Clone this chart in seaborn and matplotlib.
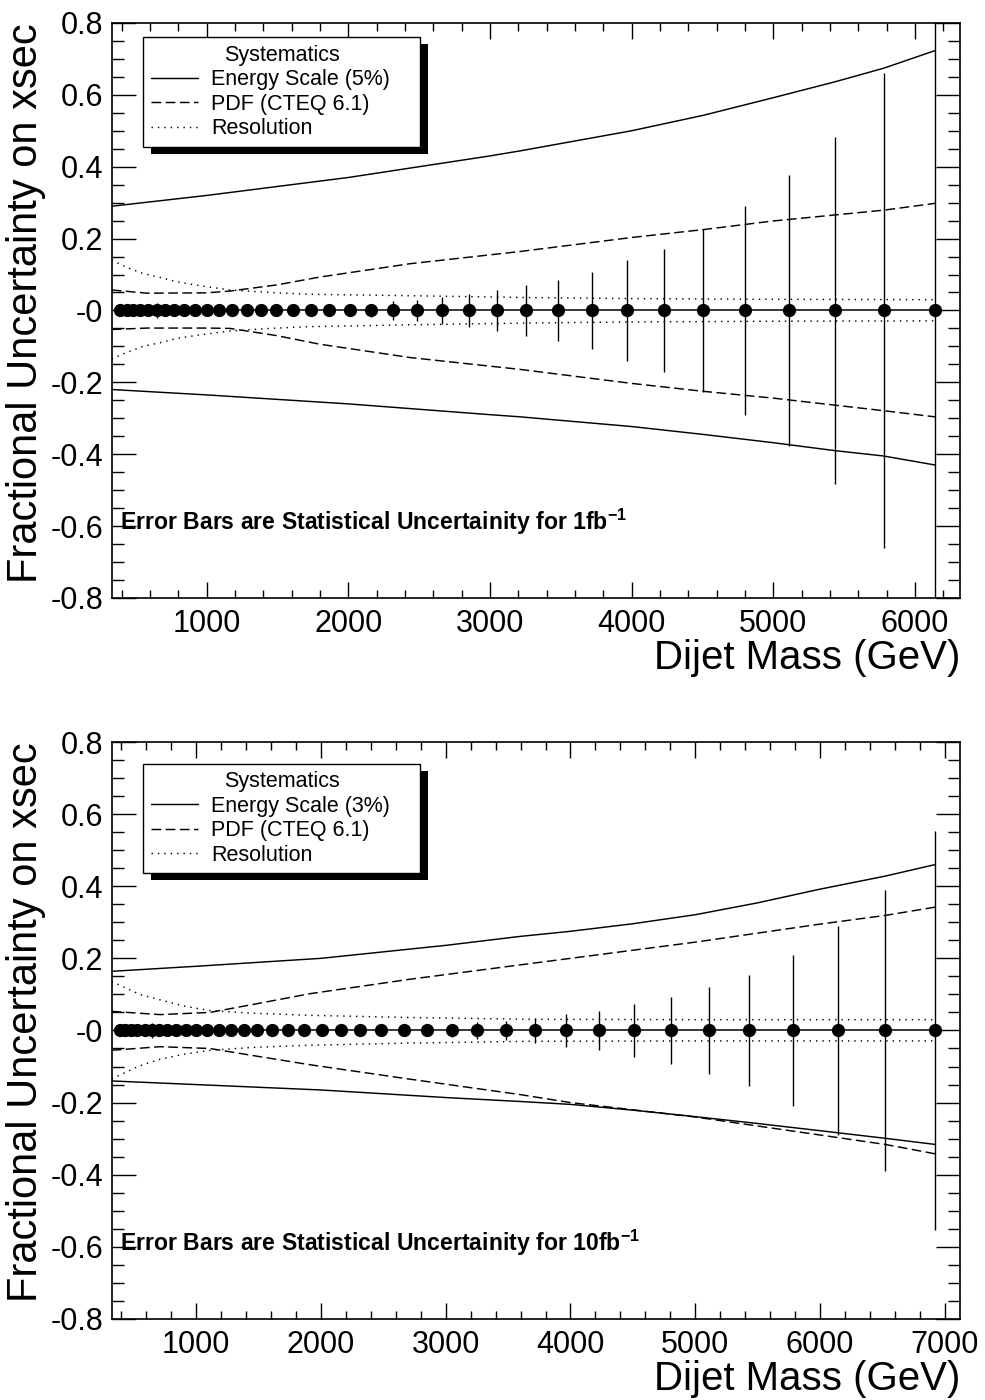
import matplotlib
matplotlib.use("Agg")
import numpy as np
import pandas as pd
import matplotlib.pyplot as plt
import seaborn as sns
from matplotlib.ticker import MultipleLocator, FixedLocator, FixedFormatter
from matplotlib.lines import Line2D
from matplotlib.patches import Rectangle
from matplotlib.transforms import IdentityTransform

# ---------------- data ----------------
mass_1fb = [388, 435, 482, 529, 588, 647, 706, 771, 840, 917, 1000, 1087, 1181,
            1282, 1381, 1487, 1607, 1736, 1865, 2011, 2159, 2317, 2482, 2663,
            2851, 3051, 3253, 3482, 3718, 3967, 4228, 4506, 4802, 5108, 5433,
            5779, 6141]
stat_1fb = [0.001, 0.001, 0.001, 0.002, 0.002, 0.02, 0.002, 0.003, 0.003, 0.004,
            0.004, 0.005, 0.006, 0.007, 0.008, 0.009, 0.010, 0.011, 0.012, 0.014,
            0.018, 0.027, 0.029, 0.038, 0.046, 0.057, 0.072, 0.086, 0.106, 0.14,
            0.172, 0.228, 0.292, 0.377, 0.483, 0.66, 0.92]

mass_10fb = [388, 435, 482, 529, 588, 647, 706, 771, 840, 917, 1000, 1087, 1181,
             1282, 1381, 1487, 1607, 1736, 1865, 2011, 2159, 2317, 2482, 2663,
             2851, 3051, 3253, 3482, 3718, 3967, 4228, 4506, 4802, 5108, 5433,
             5779, 6141, 6520, 6920]
stat_10fb = [0.0005, 0.0005, 0.0005, 0.0006, 0.0007, 0.02, 0.0008, 0.001, 0.001,
             0.0012, 0.0013, 0.0016, 0.0019, 0.0022, 0.0025, 0.0028, 0.0032,
             0.0035, 0.0038, 0.0044, 0.0057, 0.0085, 0.0092, 0.012, 0.015, 0.018,
             0.023, 0.027, 0.034, 0.045, 0.055, 0.073, 0.093, 0.12, 0.155, 0.209,
             0.291, 0.39, 0.552]

# Energy scale 5 % (1 fb-1 panel)
es5_x = [330, 1000, 2000, 3000, 3212, 4000, 4506, 5000, 5433, 5779, 6141]
es5_up = [0.29, 0.32, 0.37, 0.43, 0.444, 0.50, 0.543, 0.592, 0.636, 0.674, 0.723]
es5_dn = [-0.22, -0.235, -0.26, -0.29, -0.296, -0.323, -0.345, -0.368, -0.39, -0.405, -0.43]
# PDF (1 fb-1 panel)
pdf1_x = [330, 580, 1000, 1165, 1494, 1800, 2435, 3212, 4000, 4506, 5000, 5779, 6141]
pdf1_up = [0.057, 0.048, 0.049, 0.054, 0.071, 0.093, 0.13, 0.164, 0.203, 0.225, 0.249, 0.279, 0.298]
pdf1_dn = [-0.053, -0.049, -0.049, -0.05, -0.07, -0.094, -0.131, -0.164, -0.203, -0.225, -0.244, -0.279, -0.296]
# Resolution (1 fb-1 panel)
res1_x = [330, 436, 550, 670, 788, 952, 1165, 1450, 1729, 2435, 3258, 4000, 5000, 6141]
res1_up = [0.14, 0.12, 0.103, 0.092, 0.08, 0.069, 0.057, 0.05, 0.045, 0.041, 0.036, 0.033, 0.031, 0.03]
res1_dn = [-0.135, -0.117, -0.1, -0.09, -0.078, -0.068, -0.057, -0.05, -0.045, -0.04, -0.035, -0.032, -0.03, -0.029]

# Energy scale 3 % (10 fb-1 panel)
es3_x = [325, 1000, 2000, 3000, 3600, 4000, 4500, 5000, 5500, 6000, 6520, 6920]
es3_up = [0.164, 0.178, 0.2, 0.236, 0.261, 0.275, 0.296, 0.321, 0.354, 0.392, 0.428, 0.46]
es3_dn = [-0.14, -0.15, -0.165, -0.186, -0.197, -0.205, -0.221, -0.239, -0.258, -0.278, -0.299, -0.316]
# PDF (10 fb-1 panel)
pdf10_x = [325, 712, 1112, 1500, 1913, 2713, 3600, 4000, 5000, 6000, 6520, 6920]
pdf10_up = [0.053, 0.044, 0.05, 0.075, 0.102, 0.142, 0.182, 0.2, 0.245, 0.295, 0.319, 0.342]
pdf10_dn = [-0.055, -0.045, -0.05, -0.072, -0.095, -0.135, -0.178, -0.2, -0.24, -0.29, -0.316, -0.342]
# Resolution (10 fb-1 panel)
res10_x = [325, 436, 550, 712, 900, 1112, 1450, 1913, 2700, 3674, 5000, 6920]
res10_up = [0.136, 0.118, 0.1, 0.085, 0.068, 0.055, 0.048, 0.042, 0.036, 0.031, 0.03, 0.03]
res10_dn = [-0.134, -0.116, -0.098, -0.08, -0.066, -0.055, -0.047, -0.041, -0.035, -0.03, -0.029, -0.029]

y_ticks = [-0.8, -0.6, -0.4, -0.2, 0.0, 0.2, 0.4, 0.6, 0.8]
y_tick_labels = ["-0.8", "-0.6", "-0.4", "-0.2", "-0", "0.2", "0.4", "0.6", "0.8"]
legend_title = "Systematics"
labels_1fb = ["Energy Scale (5%)", "PDF (CTEQ 6.1)", "Resolution"]
labels_10fb = ["Energy Scale (3%)", "PDF (CTEQ 6.1)", "Resolution"]
note_1fb = r"Error Bars are Statistical Uncertainity for 1fb$^{\mathbf{-1}}$"
note_10fb = r"Error Bars are Statistical Uncertainity for 10fb$^{\mathbf{-1}}$"
x_title = "Dijet Mass (GeV)"
y_title = "Fractional Uncertainty on xsec"

# ---------------- style ----------------
sns.set_style("ticks")
plt.rcParams["font.family"] = ["Liberation Sans", "DejaVu Sans"]
plt.rcParams["mathtext.fontset"] = "custom"
plt.rcParams["mathtext.rm"] = "Liberation Sans"
plt.rcParams["mathtext.bf"] = "Liberation Sans:bold"
plt.rcParams["lines.scale_dashes"] = False
for key in ("text.color", "axes.labelcolor", "xtick.color", "ytick.color",
            "axes.edgecolor", "xtick.labelcolor", "ytick.labelcolor"):
    plt.rcParams[key] = "black"

SOLID = "-"
DASH = (0, (7.0, 3.2))
DOT = (0, (1.0, 3.6))
LW = 1.05

fig = plt.figure(figsize=(9.85, 14), dpi=100)
ax1 = fig.add_axes([0.1134, 0.5729, 0.8612, 0.4107])
ax2 = fig.add_axes([0.1134, 0.0579, 0.8612, 0.4121])


def draw_panel(ax, mass, stat, curves, xlim, labels, note, leg_top):
    for (cx, up, dn), ls in zip(curves, [SOLID, DASH, DOT]):
        for cy in (up, dn):
            df = pd.DataFrame({"m": cx, "u": cy})
            sns.lineplot(data=df, x="m", y="u", ax=ax, color="k", lw=LW,
                         linestyle=ls, estimator=None, sort=False, legend=False)
    centre = np.zeros(len(mass))
    sns.lineplot(x=mass, y=centre, ax=ax, color="k", lw=1.1, estimator=None,
                 sort=False, legend=False)
    ax.errorbar(mass, centre, yerr=stat, fmt="o", color="k", ms=8.5,
                elinewidth=1.0, capsize=0, zorder=4)

    ax.set_xlim(*xlim)
    ax.set_ylim(-0.8, 0.8)
    ax.xaxis.set_major_locator(MultipleLocator(1000))
    ax.xaxis.set_minor_locator(MultipleLocator(200))
    ax.yaxis.set_major_locator(FixedLocator(y_ticks))
    ax.yaxis.set_major_formatter(FixedFormatter(y_tick_labels))
    ax.yaxis.set_minor_locator(MultipleLocator(0.05))
    ax.tick_params(which="both", direction="in", top=True, right=True,
                   color="k", width=1.0, labelcolor="k")
    ax.tick_params(axis="x", which="major", length=11.5, labelsize=22, pad=8)
    ax.tick_params(axis="x", which="minor", length=5.5)
    ax.tick_params(axis="y", which="major", length=17, labelsize=22, pad=6)
    ax.tick_params(axis="y", which="minor", length=8.5)
    for sp in ax.spines.values():
        sp.set_linewidth(1.2)
        sp.set_color("k")
    ax.set_xlabel(x_title, fontsize=29, loc="right", labelpad=0, color="k")
    ax.set_ylabel(y_title, fontsize=30, loc="top", labelpad=3, color="k")

    ax.text(0.01, 0.132, note, transform=ax.transAxes, fontsize=16.6,
            fontweight="bold", va="center", ha="left", color="k")

    handles = [Line2D([], [], color="k", lw=LW, linestyle=ls)
               for ls in (SOLID, DASH, DOT)]
    leg = ax.legend(handles, labels, title=legend_title, loc="upper left",
                    bbox_to_anchor=(0.0373, 0.5, 0.3261, leg_top - 0.5),
                    mode="expand", borderaxespad=0, fontsize=15.5,
                    title_fontsize=15.5, frameon=True, fancybox=False,
                    edgecolor="k", framealpha=1, handlelength=2.2,
                    handletextpad=0.6, labelspacing=0.16, borderpad=0.35)
    leg.get_frame().set_linewidth(1.0)
    for t in leg.get_texts():
        t.set_color("k")
    leg.get_title().set_color("k")
    leg.set_zorder(6)
    return leg


leg1 = draw_panel(ax1, mass_1fb, stat_1fb,
                  [(es5_x, es5_up, es5_dn), (pdf1_x, pdf1_up, pdf1_dn),
                   (res1_x, res1_up, res1_dn)],
                  (330, 6318), labels_1fb, note_1fb, 0.975)
leg2 = draw_panel(ax2, mass_10fb, stat_10fb,
                  [(es3_x, es3_up, es3_dn), (pdf10_x, pdf10_up, pdf10_dn),
                   (res10_x, res10_up, res10_dn)],
                  (325, 7120), labels_10fb, note_10fb, 0.962)

# black drop shadow behind each legend box (ROOT style)
fig.canvas.draw()
for ax, leg in ((ax1, leg1), (ax2, leg2)):
    bb = leg.get_frame().get_window_extent()
    sh = Rectangle((bb.x0 + 8, bb.y0 - 7), bb.width, bb.height,
                   transform=IdentityTransform(), facecolor="k",
                   edgecolor="none", zorder=5.5, clip_on=False)
    ax.add_artist(sh)

fig.savefig("out.png", dpi=100, facecolor="white")
